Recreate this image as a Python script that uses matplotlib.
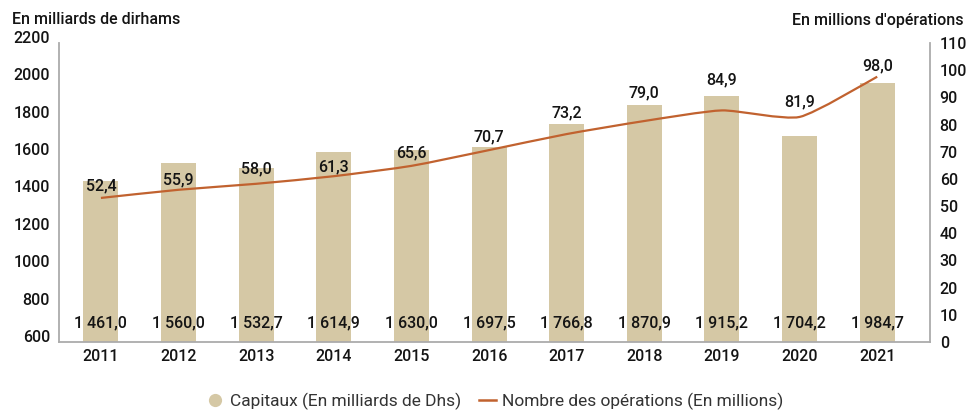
import matplotlib.pyplot as plt
from matplotlib.lines import Line2D
from matplotlib.path import Path
from matplotlib.patches import PathPatch
from matplotlib.transforms import ScaledTranslation

years = ['2011', '2012', '2013', '2014', '2015', '2016', '2017', '2018', '2019', '2020', '2021']
# printed values
capitaux_labels = ['1 461,0', '1 560,0', '1 532,7', '1 614,9', '1 630,0', '1 697,5',
                   '1 766,8', '1 870,9', '1 915,2', '1 704,2', '1 984,7']
operations_labels = ['52,4', '55,9', '58,0', '61,3', '65,6', '70,7', '73,2', '79,0', '84,9', '81,9', '98,0']
# heights as drawn in the picture
capitaux = [1461.0, 1560.0, 1532.7, 1614.9, 1630.0, 1645.0, 1766.8, 1870.9, 1915.2, 1704.2, 1984.7]
operations = [53.0, 56.0, 58.2, 61.0, 64.8, 70.6, 76.5, 81.3, 85.2, 82.8, 97.6]
# label lift above the line, in points
label_lift = [9, 7, 11, 7, 9.5, 9.5, 15, 20, 22, 11, 8]

bar_color = '#D5C8A5'
line_color = '#C1622F'
txt = '#141414'
plt.rcParams['font.family'] = ['Roboto', 'DejaVu Sans']
plt.rcParams['font.weight'] = 'medium'
fs = 11.5

fig = plt.figure(figsize=(9.73, 4.12), dpi=100)
ax = fig.add_axes([59 / 973, 70 / 412, 871 / 973, 299 / 412])
x = list(range(len(years)))

ax.bar(x, [c - 600 for c in capitaux], bottom=600, width=0.45, color=bar_color, zorder=2)
ax.set_ylim(600, 2200)
ax.set_xlim(-0.54, 10.68)
ax.set_yticks(range(600, 2201, 200))
ax.set_xticks(x)
ax.set_xticklabels(years)
ax.tick_params(axis='both', length=0, labelsize=fs, colors=txt)
ax.tick_params(axis='x', pad=5)
ax.tick_params(axis='y', pad=6.5)
for sp in ['top', 'right']:
    ax.spines[sp].set_visible(False)
for sp in ['left', 'bottom']:
    ax.spines[sp].set_color('#ABABAB')
    ax.spines[sp].set_linewidth(1.3)
for lab in ax.get_yticklabels():
    lab.set_transform(lab.get_transform() + ScaledTranslation(0, 0.06, fig.dpi_scale_trans))

for xi, s in zip(x, capitaux_labels):
    ax.text(xi, 700, s, ha='center', va='center', fontsize=fs, color=txt, zorder=5)

ax2 = ax.twinx()
ax2.set_ylim(0, 110)
ax2.set_yticks(range(0, 111, 10))
ax2.tick_params(axis='y', length=0, labelsize=fs, colors=txt, pad=7)
for sp in ['top', 'left', 'bottom']:
    ax2.spines[sp].set_visible(False)
ax2.spines['right'].set_color('#ABABAB')
ax2.spines['right'].set_linewidth(1.3)

# lightly smoothed line (bezier through the points)
k = 10
n = len(x)
verts = [(x[0], operations[0])]
codes = [Path.MOVETO]
for i in range(n - 1):
    x0, y0 = (x[i - 1], operations[i - 1]) if i > 0 else (x[i], operations[i])
    x3, y3 = (x[i + 2], operations[i + 2]) if i + 2 < n else (x[i + 1], operations[i + 1])
    c1 = (x[i] + (x[i + 1] - x0) / k, operations[i] + (operations[i + 1] - y0) / k)
    c2 = (x[i + 1] - (x3 - x[i]) / k, operations[i + 1] - (y3 - operations[i]) / k)
    verts += [c1, c2, (x[i + 1], operations[i + 1])]
    codes += [Path.CURVE4] * 3
ax2.add_patch(PathPatch(Path(verts, codes), fill=False, edgecolor=line_color,
                        linewidth=1.6, capstyle='butt', zorder=3))

for xi, o, s, d in zip(x, operations, operations_labels, label_lift):
    ax2.annotate(s, (xi, o), xytext=(0, d), textcoords='offset points',
                 ha='center', va='center', fontsize=fs, color=txt, zorder=5)

fig.text(12 / 973, 1 - 20 / 412, 'En milliards de dirhams', ha='left', va='center', fontsize=fs, color=txt)
fig.text(964 / 973, 1 - 20 / 412, "En millions d'opérations", ha='right', va='center', fontsize=fs, color=txt)

handles = [
    Line2D([], [], marker='o', linestyle='none', markersize=9.5, color=bar_color, markeredgewidth=0),
    Line2D([], [], color=line_color, linewidth=1.8),
]
fig.legend(handles, ['Capitaux (En milliards de Dhs)', 'Nombre des opérations (En millions)'],
           loc='center', bbox_to_anchor=(495 / 973, 1 - 401 / 412), ncol=2, frameon=False,
           prop={'size': 12.5, 'weight': 'normal'}, handlelength=1.0, handletextpad=0.35,
           columnspacing=1.0, labelcolor='#333333')

fig.savefig('out.png', dpi=100)
